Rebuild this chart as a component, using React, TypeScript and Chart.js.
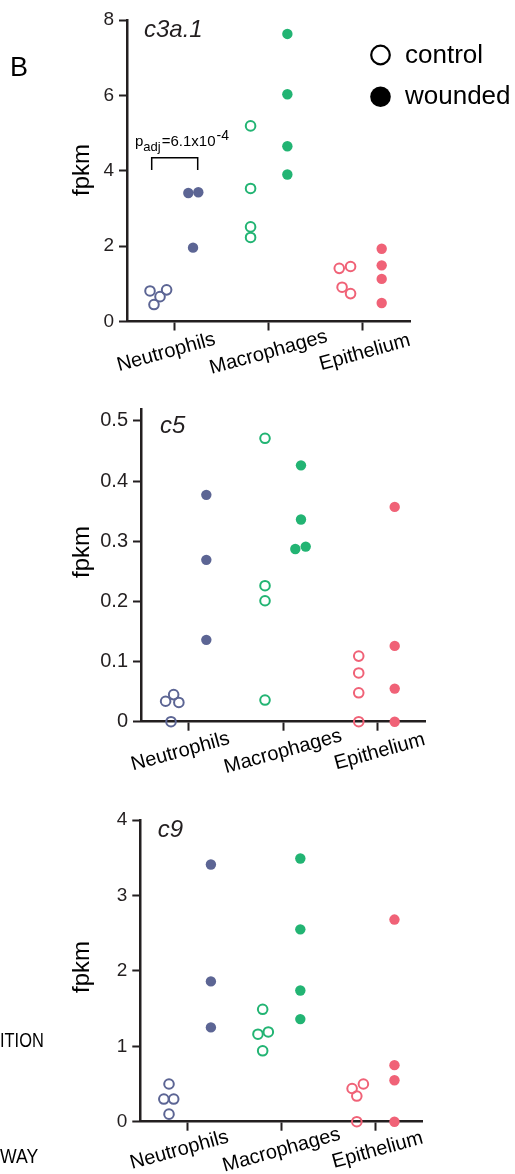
import React, { useEffect, useRef } from 'react';
import { Chart, registerables } from 'chart.js';

Chart.register(...registerables);

// ---------- data ----------
const CATEGORIES = ['Neutrophils', 'Macrophages', 'Epithelium'];
const GROUPS = ['control', 'wounded'];

// c3a.1 (values per category; jitter = horizontal offset in category units)
const C3A1_CONTROL = [[0.81, 0.84, 0.66, 0.45], [5.19, 3.53, 2.51, 2.23], [1.41, 1.46, 0.91, 0.74]];
const C3A1_CONTROL_JITTER = [[-0.256, -0.08, -0.15, -0.214], [-0.19, -0.19, -0.19, -0.19], [-0.25, -0.13, -0.22, -0.13]];
const C3A1_WOUNDED = [[3.41, 3.43, 1.96], [7.63, 6.03, 4.65, 3.9], [1.93, 1.49, 1.13, 0.49]];
const C3A1_WOUNDED_JITTER = [[0.15, 0.256, 0.2], [0.2, 0.2, 0.2, 0.2], [0.2, 0.2, 0.2, 0.2]];
const C3A1_Y_TICKS = [0, 2, 4, 6, 8];

// c5
const C5_CONTROL = [[0.034, 0.045, 0.032, 0], [0.471, 0.226, 0.201, 0.036], [0.109, 0.081, 0.048, 0]];
const C5_CONTROL_JITTER = [[-0.24, -0.155, -0.1, -0.183], [-0.19, -0.19, -0.19, -0.19], [-0.2, -0.2, -0.2, -0.2]];
const C5_WOUNDED = [[0.377, 0.269, 0.136], [0.426, 0.336, 0.287, 0.291], [0.357, 0.126, 0.055, 0]];
const C5_WOUNDED_JITTER = [[0.19, 0.19, 0.19], [0.19, 0.19, 0.13, 0.24], [0.18, 0.18, 0.18, 0.18]];
const C5_Y_TICKS = [0, 0.1, 0.2, 0.3, 0.4, 0.5];

// c9
const C9_CONTROL = [[0.5, 0.3, 0.3, 0.1], [1.49, 1.16, 1.19, 0.94], [0.44, 0.5, 0.34, 0]];
const C9_CONTROL_JITTER = [[-0.195, -0.25, -0.145, -0.195], [-0.2, -0.25, -0.14, -0.2], [-0.25, -0.13, -0.2, -0.2]];
const C9_WOUNDED = [[3.41, 1.86, 1.25], [3.49, 2.55, 1.74, 1.36], [2.68, 0.75, 0.55, 0]];
const C9_WOUNDED_JITTER = [[0.25, 0.25, 0.25], [0.2, 0.2, 0.2, 0.2], [0.2, 0.2, 0.2, 0.2]];
const C9_Y_TICKS = [0, 1, 2, 3, 4];

const Y_TITLE = 'fpkm';
const P_ADJ = { p: 'p', sub: 'adj', main: '=6.1x10', sup: '-4' };
const SIDE_TEXTS = ['ITION', 'WAY'];
const PANEL_LETTER = 'B';

// ---------- style ----------
const COLORS = ['#5c6594', '#22b473', '#f06277'];
const AXIS = '#231f20';
const FONT = '"Liberation Sans", Arial, Helvetica, sans-serif';
const LABEL_NUDGE = [-8, 0, 2];
const W = 515;

type Panel = {
  title: string;
  control: number[][];
  controlJitter: number[][];
  wounded: number[][];
  woundedJitter: number[][];
  yTicks: number[];
  yMax: number;
  top: number;
  height: number;
  area: { l: number; r: number; t: number; b: number };
  titlePos: [number, number];
  yTitlePos: [number, number];
  tickFont: number;
  labelDy: number;
  extra?: (ctx: CanvasRenderingContext2D, off: number) => void;
};

function drawPanelOneExtras(ctx: CanvasRenderingContext2D, off: number) {
  ctx.fillStyle = '#000';
  ctx.textAlign = 'left';
  ctx.textBaseline = 'alphabetic';
  ctx.font = `27px ${FONT}`;
  ctx.fillText(PANEL_LETTER, 10, 75.5 - off);

  // legend
  ctx.strokeStyle = '#000';
  ctx.lineWidth = 2.2;
  ctx.beginPath();
  ctx.arc(380.5, 55 - off, 9.3, 0, Math.PI * 2);
  ctx.stroke();
  ctx.beginPath();
  ctx.arc(380.5, 96.7 - off, 10.3, 0, Math.PI * 2);
  ctx.fill();
  ctx.font = `26px ${FONT}`;
  ctx.fillText(GROUPS[0], 405, 63.3 - off);
  ctx.fillText(GROUPS[1], 405, 104 - off);

  // bracket
  ctx.lineWidth = 1.5;
  ctx.beginPath();
  ctx.moveTo(151.7, 170 - off);
  ctx.lineTo(151.7, 157.7 - off);
  ctx.lineTo(197.7, 157.7 - off);
  ctx.lineTo(197.7, 170 - off);
  ctx.stroke();

  // p_adj annotation
  let x = 135;
  ctx.font = `15px ${FONT}`;
  ctx.fillText(P_ADJ.p, x, 146 - off);
  x += ctx.measureText(P_ADJ.p).width;
  ctx.font = `13px ${FONT}`;
  ctx.fillText(P_ADJ.sub, x, 150.5 - off);
  x += ctx.measureText(P_ADJ.sub).width + 1;
  ctx.font = `15px ${FONT}`;
  ctx.fillText(P_ADJ.main, x, 146 - off);
  x += ctx.measureText(P_ADJ.main).width;
  ctx.font = `14px ${FONT}`;
  ctx.fillText(P_ADJ.sup, x + 1, 139.5 - off);
}

function drawPanelThreeExtras(ctx: CanvasRenderingContext2D, off: number) {
  ctx.fillStyle = '#000';
  ctx.textAlign = 'left';
  ctx.textBaseline = 'alphabetic';
  ctx.font = `20.5px ${FONT}`;
  ctx.save();
  ctx.translate(0, 1047 - off);
  ctx.scale(0.8, 1);
  ctx.fillText(SIDE_TEXTS[0], 0, 0);
  ctx.restore();
  ctx.save();
  ctx.translate(0, 1163 - off);
  ctx.scale(0.86, 1);
  ctx.fillText(SIDE_TEXTS[1], 0, 0);
  ctx.restore();
}

const PANELS: Panel[] = [
  {
    title: 'c3a.1', control: C3A1_CONTROL, controlJitter: C3A1_CONTROL_JITTER,
    wounded: C3A1_WOUNDED, woundedJitter: C3A1_WOUNDED_JITTER, yTicks: C3A1_Y_TICKS, yMax: 8,
    top: 0, height: 385, area: { l: 127, r: 410, t: 20, b: 321.5 },
    titlePos: [144, 37], yTitlePos: [82, 170], tickFont: 19, labelDy: 31,
    extra: drawPanelOneExtras,
  },
  {
    title: 'c5', control: C5_CONTROL, controlJitter: C5_CONTROL_JITTER,
    wounded: C5_WOUNDED, woundedJitter: C5_WOUNDED_JITTER, yTicks: C5_Y_TICKS, yMax: 0.52,
    top: 385, height: 395, area: { l: 141, r: 425, t: 408.8, b: 721.7 },
    titlePos: [160, 432.7], yTitlePos: [82, 552], tickFont: 20, labelDy: 30,
  },
  {
    title: 'c9', control: C9_CONTROL, controlJitter: C9_CONTROL_JITTER,
    wounded: C9_WOUNDED, woundedJitter: C9_WOUNDED_JITTER, yTicks: C9_Y_TICKS, yMax: 4,
    top: 780, height: 394, area: { l: 140.3, r: 422.7, t: 820, b: 1121.7 },
    titlePos: [157.7, 836.7], yTitlePos: [82, 967], tickFont: 19, labelDy: 28.5,
    extra: drawPanelThreeExtras,
  },
];

function makeExtrasPlugin(p: Panel) {
  return {
    id: 'extras',
    afterDraw(chart: any) {
      const ctx: CanvasRenderingContext2D = chart.ctx;
      const off = p.top;
      ctx.save();
      ctx.fillStyle = '#231f20';
      ctx.textAlign = 'left';
      ctx.textBaseline = 'alphabetic';
      ctx.font = `italic 24px ${FONT}`;
      ctx.fillText(p.title, p.titlePos[0], p.titlePos[1] - off);

      ctx.save();
      ctx.translate(p.yTitlePos[0], p.yTitlePos[1] - off);
      ctx.rotate(-Math.PI / 2);
      ctx.fillStyle = '#000';
      ctx.font = `24px ${FONT}`;
      ctx.textAlign = 'center';
      ctx.textBaseline = 'middle';
      ctx.fillText(Y_TITLE, 0, 0);
      ctx.restore();

      const xs = chart.scales.x;
      const bottom = chart.chartArea.bottom;
      ctx.font = `20px ${FONT}`;
      ctx.fillStyle = '#000';
      CATEGORIES.forEach((name, i) => {
        const px = xs.getPixelForValue(i + 0.5) + LABEL_NUDGE[i];
        ctx.save();
        ctx.translate(px, bottom + p.labelDy);
        ctx.rotate((-15.5 * Math.PI) / 180);
        ctx.textAlign = 'center';
        ctx.textBaseline = 'middle';
        ctx.fillText(name, 0, 0);
        ctx.restore();
      });

      if (p.extra) p.extra(ctx, off);
      ctx.restore();
    },
  };
}

function makeConfig(p: Panel): any {
  const datasets: any[] = [];
  CATEGORIES.forEach((cat, i) => {
    datasets.push({
      label: `${cat} ${GROUPS[0]}`,
      data: p.control[i].map((v, k) => ({ x: i + 0.5 + p.controlJitter[i][k], y: v })),
      pointRadius: 4.8,
      pointBorderWidth: 2,
      pointBorderColor: COLORS[i],
      pointBackgroundColor: 'rgba(255,255,255,0)',
      showLine: false,
      clip: false,
    });
    datasets.push({
      label: `${cat} ${GROUPS[1]}`,
      data: p.wounded[i].map((v, k) => ({ x: i + 0.5 + p.woundedJitter[i][k], y: v })),
      pointRadius: 5.2,
      pointBorderWidth: 0,
      pointBorderColor: COLORS[i],
      pointBackgroundColor: COLORS[i],
      showLine: false,
      clip: false,
    });
  });

  const gridCommon = {
    drawOnChartArea: false,
    drawTicks: true,
    tickWidth: 2,
    color: AXIS,
    tickColor: AXIS,
  };
  const border = { display: true, width: 2.5, color: AXIS };

  return {
    type: 'scatter',
    data: { datasets },
    options: {
      responsive: false,
      animation: false,
      events: [],
      layout: { padding: { top: p.area.t - p.top, left: 0, right: W - p.area.r, bottom: 0 } },
      plugins: { legend: { display: false }, tooltip: { enabled: false }, title: { display: false } },
      scales: {
        x: {
          type: 'linear',
          min: 0,
          max: CATEGORIES.length,
          afterBuildTicks: (s: any) => {
            s.ticks = CATEGORIES.map((_, i) => ({ value: i + 0.5 }));
          },
          afterFit: (s: any) => {
            s.height = p.top + p.height - p.area.b;
          },
          ticks: { display: false },
          grid: { ...gridCommon, tickLength: 9 },
          border,
        },
        y: {
          type: 'linear',
          min: 0,
          max: p.yMax,
          afterBuildTicks: (s: any) => {
            s.ticks = p.yTicks.map((v) => ({ value: v }));
          },
          afterFit: (s: any) => {
            s.width = p.area.l;
          },
          ticks: {
            padding: 5,
            color: '#231f20',
            font: { family: FONT, size: p.tickFont },
            callback: (v: any) => `${+Number(v).toFixed(2)}`,
          },
          grid: { ...gridCommon, tickLength: 8 },
          border,
        },
      },
    },
    plugins: [makeExtrasPlugin(p)],
  };
}

function PanelChart({ p }: { p: Panel }) {
  const ref = useRef<HTMLCanvasElement>(null);
  useEffect(() => {
    if (!ref.current) return;
    const chart = new Chart(ref.current, makeConfig(p));
    return () => chart.destroy();
  }, [p]);
  return (
    <canvas
      ref={ref}
      width={W}
      height={p.height}
      style={{ position: 'absolute', left: 0, top: p.top, width: W, height: p.height, display: 'block' }}
    />
  );
}

export default function App() {
  return (
    <div style={{ position: 'absolute', left: 0, top: 0, width: W, height: 1174, background: '#fff', overflow: 'hidden' }}>
      {PANELS.map((p) => (
        <PanelChart key={p.title} p={p} />
      ))}
    </div>
  );
}
